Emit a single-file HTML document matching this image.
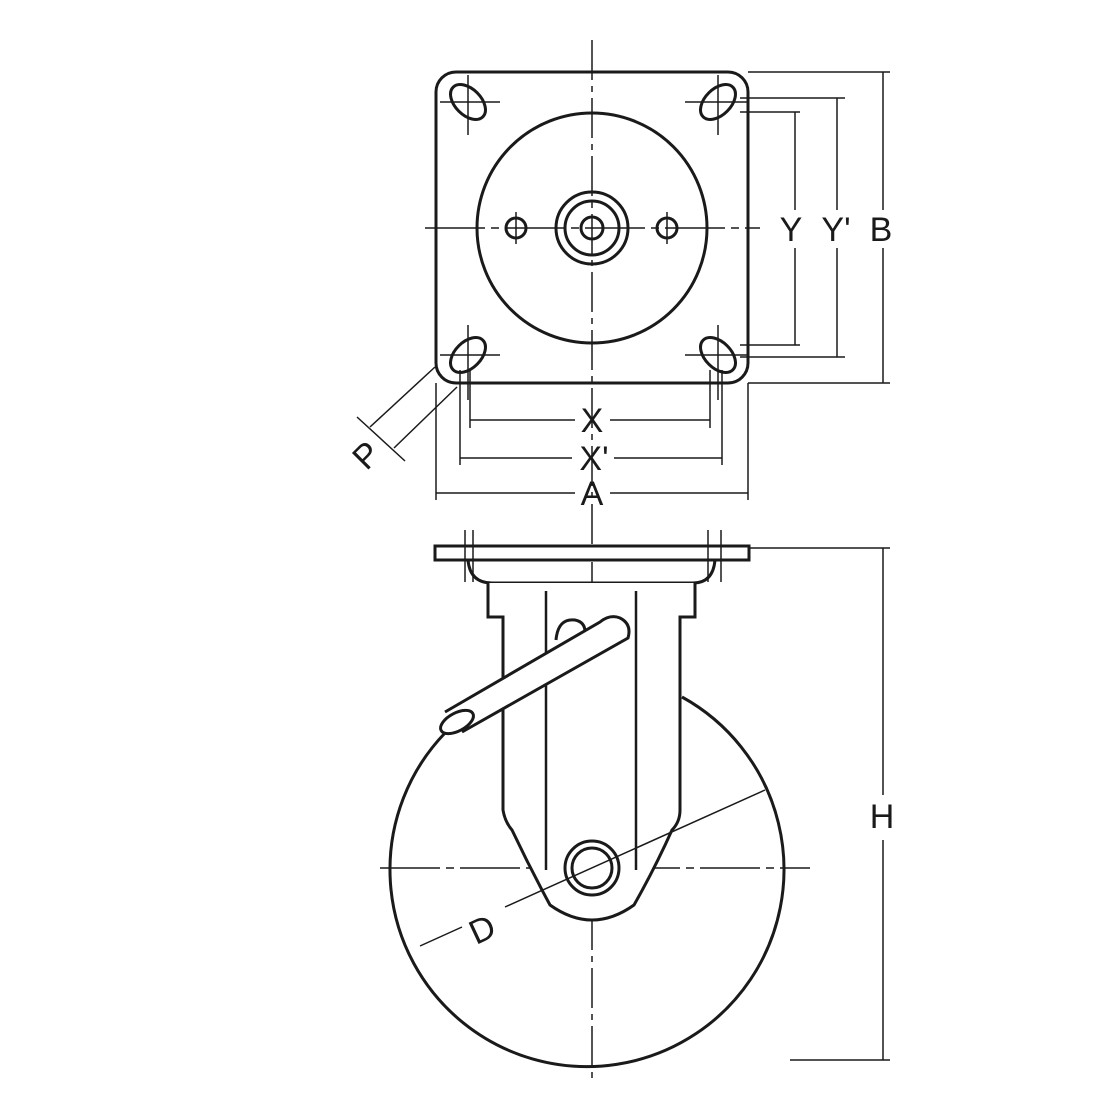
<!DOCTYPE html>
<html><head><style>body{margin:0;background:#fff}svg{display:block}</style></head><body>
<svg width="1111" height="1111" viewBox="0 0 1111 1111" xmlns="http://www.w3.org/2000/svg" font-family="Liberation Sans, sans-serif">
<g fill="none" stroke="#1a1a1a" stroke-width="3">
<rect x="436" y="72" width="312" height="311" rx="20"/>
<circle cx="592" cy="228" r="115"/>
<circle cx="592" cy="228" r="36"/>
<circle cx="592" cy="228" r="27"/>
<circle cx="592" cy="228" r="11"/>
<circle cx="516" cy="228" r="10"/>
<circle cx="667" cy="228" r="10"/>
<ellipse cx="468" cy="102" rx="21" ry="13" transform="rotate(45 468 102)"/>
<ellipse cx="718" cy="102" rx="21" ry="13" transform="rotate(-45 718 102)"/>
<ellipse cx="468" cy="355" rx="21" ry="13" transform="rotate(-45 468 355)"/>
<ellipse cx="718" cy="355" rx="21" ry="13" transform="rotate(45 718 355)"/>
</g>
<g fill="none" stroke="#1a1a1a" stroke-width="1.5">
<line x1="592" y1="40" x2="592" y2="1080" stroke-dasharray="40,6,6,6"/>
<line x1="425" y1="228" x2="760" y2="228" stroke-dasharray="60,6,8,6"/>
<line x1="380" y1="868" x2="810" y2="868" stroke-dasharray="60,6,8,6"/>
<line x1="440" y1="102" x2="500" y2="102"/><line x1="468" y1="75" x2="468" y2="135"/>
<line x1="685" y1="102" x2="748" y2="102"/><line x1="718" y1="75" x2="718" y2="135"/>
<line x1="440" y1="355" x2="500" y2="355"/><line x1="468" y1="325" x2="468" y2="400"/>
<line x1="685" y1="355" x2="748" y2="355"/><line x1="718" y1="325" x2="718" y2="400"/>
<line x1="516" y1="212" x2="516" y2="244"/><line x1="667" y1="212" x2="667" y2="244"/>
<line x1="748" y1="72" x2="890" y2="72"/><line x1="748" y1="383" x2="890" y2="383"/>
<line x1="740" y1="98" x2="845" y2="98"/><line x1="740" y1="357" x2="845" y2="357"/>
<line x1="740" y1="112" x2="800" y2="112"/><line x1="740" y1="345" x2="800" y2="345"/>
<line x1="795" y1="112" x2="795" y2="210"/><line x1="795" y1="248" x2="795" y2="345"/>
<line x1="837" y1="98" x2="837" y2="210"/><line x1="837" y1="248" x2="837" y2="357"/>
<line x1="883" y1="72" x2="883" y2="210"/><line x1="883" y1="248" x2="883" y2="383"/>
<line x1="436" y1="383" x2="436" y2="500"/><line x1="748" y1="383" x2="748" y2="500"/>
<line x1="460" y1="370" x2="460" y2="465"/><line x1="722" y1="370" x2="722" y2="465"/>
<line x1="470" y1="370" x2="470" y2="428"/><line x1="710" y1="370" x2="710" y2="428"/>
<line x1="470" y1="420" x2="575" y2="420"/><line x1="610" y1="420" x2="710" y2="420"/>
<line x1="460" y1="458" x2="572" y2="458"/><line x1="614" y1="458" x2="722" y2="458"/>
<line x1="436" y1="493" x2="575" y2="493"/><line x1="610" y1="493" x2="748" y2="493"/>
<line x1="435" y1="367" x2="370" y2="427"/><line x1="457" y1="387" x2="394" y2="448"/>
<line x1="357" y1="417" x2="405" y2="461"/>
</g>
<g font-size="34" fill="#1a1a1a" text-anchor="middle">
<text x="791" y="241">Y</text><text x="836" y="241">Y'</text><text x="881" y="241">B</text>
<text x="592" y="432">X</text><text x="594" y="470">X'</text><text x="592" y="505">A</text>
<text x="0" y="0" transform="translate(366,455) rotate(-45)" text-anchor="middle" dy="12">P</text>
<text x="882" y="828">H</text>
<text x="0" y="0" transform="translate(482,929) rotate(-25)" dy="12">D</text>
</g>
<g fill="none" stroke="#1a1a1a" stroke-width="3">
<path d="M682,697 A197,197 0 1 1 445,733"/>
<rect x="435" y="546" width="314" height="14" fill="#fff"/>
<path d="M468,560 Q470,583 492,583 L693,583 Q713,583 715,560"/>
<path d="M488,583 L488,617 L503,617 L503,810 Q505,822 512,830 Q530,868 550,905 Q592,935 634,905 Q655,868 672,830 Q680,822 680,810 L680,617 L695,617 L695,583" fill="#fff"/>
<line x1="546" y1="591" x2="546" y2="870" stroke-width="2.5"/>
<line x1="636" y1="591" x2="636" y2="870" stroke-width="2.5"/>
<circle cx="592" cy="868" r="27" fill="#fff"/>
<circle cx="592" cy="868" r="20"/>
<path d="M556,640 Q558,618 575,620 Q585,622 585,632" fill="#fff"/>
<path d="M445,712 L600,622 Q610,614 620,618 Q632,624 628,638 L462,732" fill="#fff"/>
<ellipse cx="457" cy="722" rx="18" ry="9" transform="rotate(-28 457 722)" fill="#fff"/>
</g>
<g fill="none" stroke="#1a1a1a" stroke-width="1.5">
<line x1="465" y1="530" x2="465" y2="582"/><line x1="473" y1="530" x2="473" y2="582"/>
<line x1="708" y1="530" x2="708" y2="582"/><line x1="721" y1="530" x2="721" y2="582"/>
<line x1="749" y1="548" x2="890" y2="548"/><line x1="790" y1="1060" x2="890" y2="1060"/>
<line x1="883" y1="548" x2="883" y2="795"/><line x1="883" y1="840" x2="883" y2="1060"/>
<line x1="420" y1="946" x2="462" y2="927"/><line x1="505" y1="907" x2="765" y2="790"/>
</g>
</svg>
</body></html>
